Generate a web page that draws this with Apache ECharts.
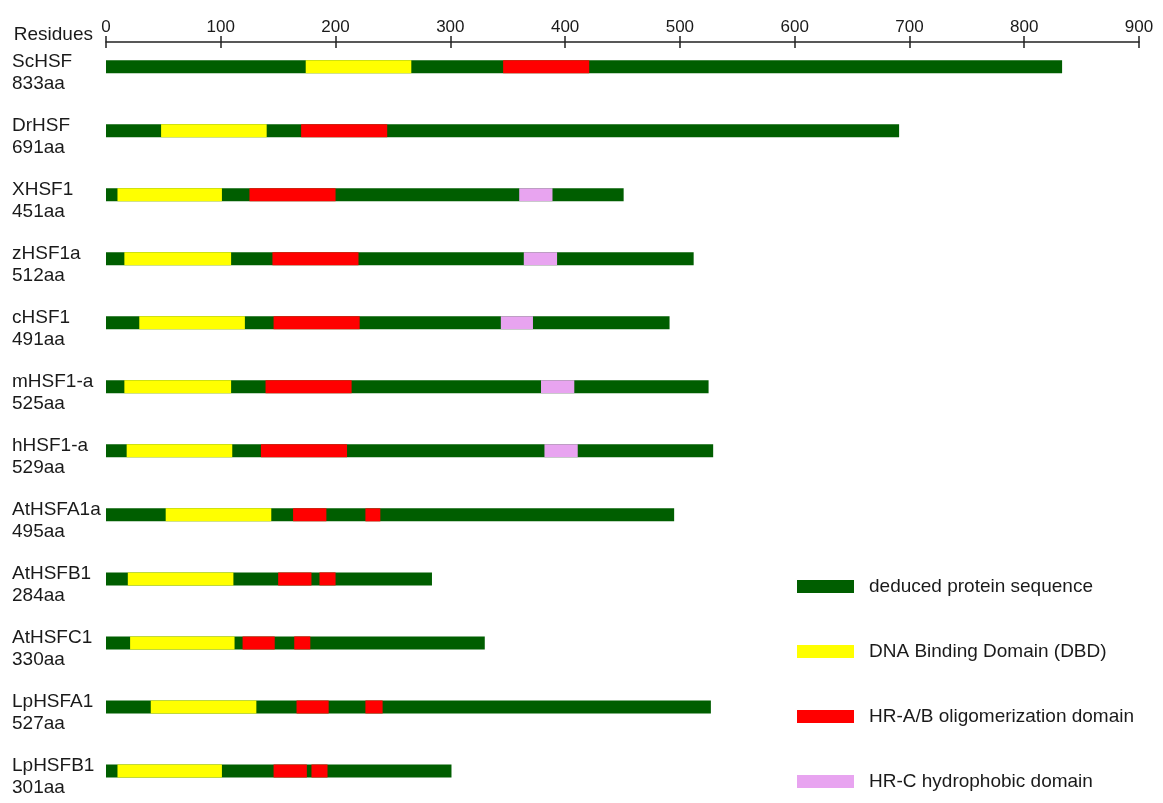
<!DOCTYPE html>
<html>
<head>
<meta charset="utf-8">
<title>HSF domain structure</title>
<script src="https://cdn.jsdelivr.net/npm/echarts@6/dist/echarts.min.js"></script>
<style>
  html, body { margin: 0; padding: 0; background: #ffffff; }
  #chart { width: 1163px; height: 803px; }
</style>
</head>
<body>
<div id="chart"></div>
<script>
// Heat shock factor proteins, top to bottom
const proteins = ['ScHSF', 'DrHSF', 'XHSF1', 'zHSF1a', 'cHSF1', 'mHSF1-a', 'hHSF1-a',
                  'AtHSFA1a', 'AtHSFB1', 'AtHSFC1', 'LpHSFA1', 'LpHSFB1'];
// Full length of each deduced protein (amino acids)
const lengths = [833, 691, 451, 512, 491, 525, 529, 495, 284, 330, 527, 301];
// DNA binding domain [start, end]
const dbd = [[174, 266], [48, 140], [10, 101], [16, 109], [29, 121], [16, 109],
             [18, 110], [52, 144], [19, 111], [21, 112], [39, 131], [10, 101]];
// HR-A/B oligomerization domain, one or two blocks per protein
const hrab = [
  [[346, 421]], [[170, 245]], [[125, 200]], [[145, 220]], [[146, 221]], [[139, 214]],
  [[135, 210]], [[163, 192], [226, 239]], [[150, 179], [186, 200]],
  [[119, 147], [164, 178]], [[166, 194], [226, 241]], [[146, 175], [179, 193]]
];
// HR-C hydrophobic domain (only the vertebrate HSF1s carry one)
const hrc = [null, null, [360, 389], [364, 393], [344, 372], [379, 408], [382, 411],
             null, null, null, null, null];
// Residue axis ticks
const residueTicks = [0, 100, 200, 300, 400, 500, 600, 700, 800, 900];

const seriesNames = ['deduced protein sequence', 'DNA Binding Domain (DBD)',
                     'HR-A/B oligomerization domain', 'HR-C hydrophobic domain'];
const colors = ['#005e00', '#ffff00', '#ff0000', '#e8a4f0'];

const FONT = '"Liberation Sans", Arial, sans-serif';
const BAR_H = 13;
const TEXT = '#1a1a1a';

// span data: [row, start, end]
const baseData = lengths.map((len, i) => [i, 0, len]);
const dbdData = dbd.map((d, i) => [i, d[0], d[1]]);
const hrabData = [];
hrab.forEach((blocks, i) => blocks.forEach(b => hrabData.push([i, b[0], b[1]])));
const hrcData = [];
hrc.forEach((d, i) => { if (d) hrcData.push([i, d[0], d[1]]); });

function spanRect(api) {
  const row = api.value(0);
  const p0 = api.coord([api.value(1), row]);
  const p1 = api.coord([api.value(2), row]);
  return {
    type: 'rect',
    shape: { x: p0[0], y: p0[1] - BAR_H / 2, width: p1[0] - p0[0], height: BAR_H },
    style: { fill: api.visual('color') }
  };
}

function renderDomain(params, api) {
  return spanRect(api);
}

// full-length bar plus the protein name and length at the left margin
function renderProtein(params, api) {
  const row = api.value(0);
  const c = api.coord([0, row]);
  return {
    type: 'group',
    children: [
      spanRect(api),
      {
        type: 'text',
        style: {
          x: 12, y: c[1] - 5, text: proteins[row],
          font: '19px ' + FONT, fill: TEXT, verticalAlign: 'middle', align: 'left'
        }
      },
      {
        type: 'text',
        style: {
          x: 12, y: c[1] + 17, text: lengths[row] + 'aa',
          font: '19px ' + FONT, fill: TEXT, verticalAlign: 'middle', align: 'left'
        }
      }
    ]
  };
}

const xBase = {
  type: 'value',
  position: 'top',
  min: 0,
  max: 900,
  interval: 100,
  splitLine: { show: false }
};

const option = {
  backgroundColor: '#ffffff',
  animation: false,
  grid: { left: 106, right: 24, top: 42, height: 771 },
  legend: {
    orient: 'vertical',
    left: 797,
    top: 577,
    icon: 'rect',
    itemWidth: 57,
    itemHeight: 13,
    itemGap: 46,
    padding: 0,
    selectedMode: false,
    data: seriesNames,
    textStyle: { fontFamily: FONT, fontSize: 19, color: TEXT, padding: [0, 0, 0, 10] }
  },
  xAxis: [
    Object.assign({}, xBase, {
      name: 'Residues',
      nameLocation: 'start',
      nameGap: 13,
      nameTextStyle: {
        fontFamily: FONT, fontSize: 19, color: TEXT, lineHeight: 15,
        verticalAlign: 'bottom', align: 'right'
      },
      axisLine: { show: true, onZero: false, lineStyle: { color: '#222', width: 1.5 } },
      axisTick: { show: true, length: 6, lineStyle: { color: '#222', width: 1.5 } },
      axisLabel: {
        margin: 6, fontFamily: FONT, fontSize: 17, color: TEXT,
        customValues: residueTicks
      }
    }),
    // second copy of the axis draws the lower half of each tick
    Object.assign({}, xBase, {
      axisLine: { show: false, onZero: false },
      axisTick: { show: true, inside: true, length: 6, lineStyle: { color: '#222', width: 1.5 } },
      axisLabel: { show: false }
    })
  ],
  yAxis: {
    type: 'value',
    inverse: true,
    min: -0.385,
    max: 11.5,
    show: false
  },
  series: [
    { name: seriesNames[0], type: 'custom', renderItem: renderProtein, data: baseData,
      encode: { x: [1, 2], y: 0 }, itemStyle: { color: colors[0] }, clip: false },
    { name: seriesNames[1], type: 'custom', renderItem: renderDomain, data: dbdData,
      encode: { x: [1, 2], y: 0 }, itemStyle: { color: colors[1] } },
    { name: seriesNames[2], type: 'custom', renderItem: renderDomain, data: hrabData,
      encode: { x: [1, 2], y: 0 }, itemStyle: { color: colors[2] } },
    { name: seriesNames[3], type: 'custom', renderItem: renderDomain, data: hrcData,
      encode: { x: [1, 2], y: 0 }, itemStyle: { color: colors[3] } }
  ]
};

const chart = echarts.init(document.getElementById('chart'), null, { renderer: 'canvas' });
chart.setOption(option);
</script>
</body>
</html>
